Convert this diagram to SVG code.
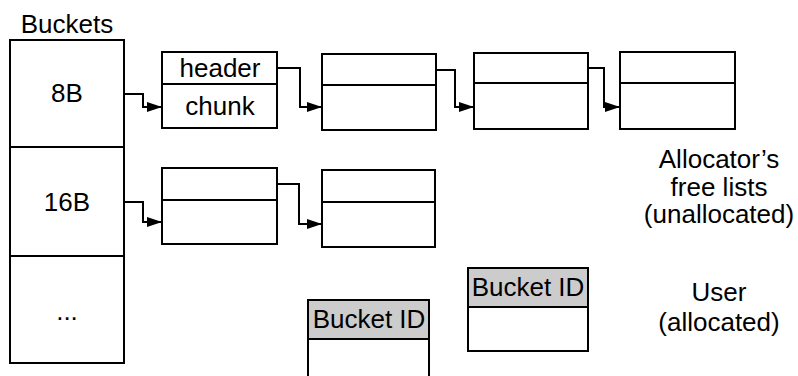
<svg xmlns="http://www.w3.org/2000/svg" width="798" height="376" viewBox="0 0 798 376">
  <style>
    .box { fill: #ffffff; stroke: #000000; stroke-width: 2; }
    .tag { fill: #cccccc; stroke: #000000; stroke-width: 2; }
    .div { stroke: #000000; stroke-width: 2; fill: none; }
    .link { fill: none; stroke: #000000; stroke-width: 2; marker-end: url(#head); }
    text { font-family: "Liberation Sans", Arial, sans-serif; font-size: 26px; fill: #000000; text-anchor: middle; }
  </style>
  <defs>
    <marker id="head" markerUnits="userSpaceOnUse" markerWidth="15" markerHeight="10" refX="15" refY="5" orient="auto">
      <path d="M0,0 L15,5 L0,10 z" fill="#000000"/>
    </marker>
  </defs>
  <rect width="798" height="376" fill="#ffffff"/>

  <!-- bucket table -->
  <g id="buckets">
    <text x="67" y="33">Buckets</text>
    <rect class="box" x="10" y="40" width="114" height="323"/>
    <line class="div" x1="10" y1="147" x2="124" y2="147"/>
    <line class="div" x1="10" y1="256" x2="124" y2="256"/>
    <text x="67" y="102">8B</text>
    <text x="67" y="211">16B</text>
    <text x="67" y="320">...</text>
  </g>

  <!-- free list for 8B -->
  <g id="chunk-8-1">
    <rect class="box" x="162" y="52" width="115" height="76"/>
    <line class="div" x1="162" y1="84" x2="277" y2="84"/>
    <text x="220" y="77">header</text>
    <text x="220" y="115">chunk</text>
  </g>
  <g id="chunk-8-2">
    <rect class="box" x="322" y="54" width="114" height="76"/>
    <line class="div" x1="322" y1="85" x2="436" y2="85"/>
  </g>
  <g id="chunk-8-3">
    <rect class="box" x="474" y="53" width="114" height="76"/>
    <line class="div" x1="474" y1="83" x2="588" y2="83"/>
  </g>
  <g id="chunk-8-4">
    <rect class="box" x="620" y="52" width="115" height="77"/>
    <line class="div" x1="620" y1="83" x2="735" y2="83"/>
  </g>

  <!-- free list for 16B -->
  <g id="chunk-16-1">
    <rect class="box" x="162" y="168" width="115" height="76"/>
    <line class="div" x1="162" y1="200" x2="277" y2="200"/>
  </g>
  <g id="chunk-16-2">
    <rect class="box" x="322" y="170" width="113" height="77"/>
    <line class="div" x1="322" y1="202" x2="435" y2="202"/>
  </g>

  <!-- allocated chunks -->
  <g id="user-chunk-1">
    <rect class="tag" x="308" y="300" width="121" height="39"/>
    <rect class="box" x="308" y="339" width="121" height="45"/>
    <text x="369" y="328">Bucket ID</text>
  </g>
  <g id="user-chunk-2">
    <rect class="tag" x="468" y="268" width="120" height="39"/>
    <rect class="box" x="468" y="307" width="120" height="44"/>
    <text x="528" y="296">Bucket ID</text>
  </g>

  <!-- captions -->
  <g id="label-free">
    <text x="719" y="168">Allocator’s</text>
    <text x="719" y="196">free lists</text>
    <text x="719" y="223">(unallocated)</text>
  </g>
  <g id="label-user">
    <text x="719" y="301">User</text>
    <text x="719" y="331">(allocated)</text>
  </g>

  <!-- next-pointers -->
  <g id="connectors">
    <polyline class="link" points="124,94 143,94 143,107 162,107"/>
    <polyline class="link" points="277,68 300,68 300,107 322,107"/>
    <polyline class="link" points="436,70 455,70 455,107 474,107"/>
    <polyline class="link" points="588,68 604,68 604,107 620,107"/>
    <polyline class="link" points="124,202 143,202 143,222 162,222"/>
    <polyline class="link" points="277,184 299,184 299,224 322,224"/>
  </g>
</svg>
